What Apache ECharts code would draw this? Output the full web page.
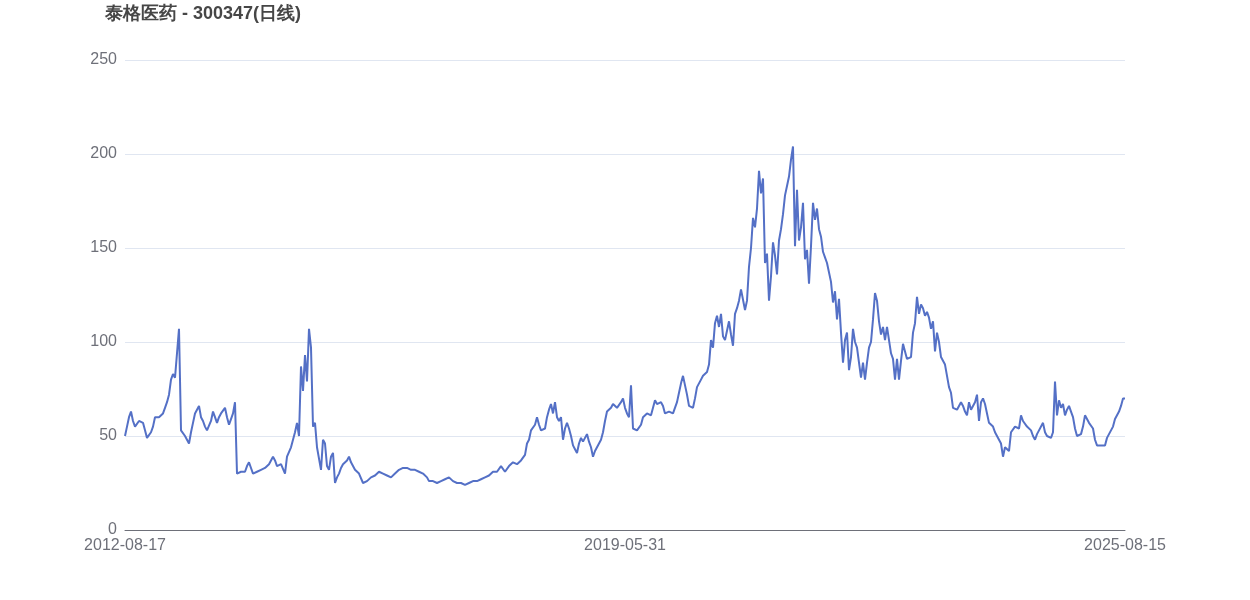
<!DOCTYPE html>
<html>
<head>
<meta charset="utf-8">
<script src="https://cdn.jsdelivr.net/npm/echarts@6/dist/echarts.min.js"></script>
<style>html,body{margin:0;padding:0;background:#fff;}#c{width:1250px;height:600px;}</style>
</head>
<body>
<div id="c"></div>
<script>
const titleText = '泰格医药 - 300347(日线)';
const tickLabels = ['2012-08-17', '2019-05-31', '2025-08-15'];
const yTicks = [0, 50, 100, 150, 200, 250];
// closing price, sampled evenly across the trading days
const closes = [
  50,55,60,63,58,55,56,58,59,57,
  53,49,50,52,55,60,61,60,59,62,
  65,68,72,80,83,81,82,107,53,52,
  50,48,46,52,57,62,64,66,60,58,
  55,53,52,58,63,60,57,60,62,61,
  65,60,56,59,62,68,30,29,31,32,
  31,34,36,33,30,30,31,31,32,32,
  33,34,35,37,39,37,34,34,35,34,
  30,39,40,44,48,52,57,50,87,74,
  93,79,107,97,55,57,44,38,32,48,
  46,34,32,39,41,25,28,30,33,35,
  36,37,39,36,34,32,31,30,29,25,
  26,26,27,28,29,29,30,31,30,30,
  30,29,28,28,29,30,31,32,33,33,
  34,33,32,32,32,32,31,31,31,30,
  30,28,26,26,26,25,25,26,26,27,
  27,28,28,27,26,25,25,25,25,24,
  24,25,25,25,26,26,26,27,27,27,
  28,28,29,30,31,32,31,32,34,33,
  31,32,34,35,36,35,35,36,37,36,
  40,46,48,53,52,56,60,56,53,54,
  54,60,64,67,62,68,60,58,60,48,
  54,57,54,50,45,43,41,46,49,47,
  49,51,47,44,39,42,44,45,48,52,
  58,63,64,65,67,66,65,64,68,70,
  65,62,60,77,54,53,53,54,56,60,
  61,62,62,61,65,69,67,67,68,66,
  62,63,63,62,62,63,68,73,78,82,
  81,72,66,65,65,70,76,77,80,82,
  83,84,88,101,97,110,114,108,115,103,
  101,106,111,104,98,115,118,122,128,129,
  117,122,140,150,166,161,171,191,179,187,
  142,147,122,135,153,146,136,154,160,168,
  178,183,188,197,204,151,181,154,161,174,
  144,149,131,151,174,165,171,160,156,148,
  145,142,143,132,121,127,112,123,105,89,
  101,105,85,92,107,100,97,89,81,89,
  80,89,97,100,112,126,122,111,104,108,
  101,108,101,94,91,80,91,80,90,99,
  95,91,90,92,105,110,124,115,120,118,
  114,116,113,107,111,95,105,100,92,90,
  88,87,76,73,65,65,64,63,68,66,
  63,61,68,64,65,68,72,58,68,70,
  67,62,57,56,55,52,50,49,46,39,
  44,45,42,52,51,55,56,54,61,58,
  57,55,55,53,50,48,51,53,52,57,
  52,50,49,49,52,79,61,69,65,67,
  61,64,66,63,60,54,50,49,51,55,
  61,59,57,57,54,48,45,44,45,44,
  45,49,51,50,55,59,58,63,66,70,
  70
];
const mid = (closes.length - 1) / 2;
const categories = closes.map((_, i) => i === 0 ? tickLabels[0] : (i === mid ? tickLabels[1] : (i === closes.length - 1 ? tickLabels[2] : String(i))));

const chart = echarts.init(document.getElementById('c'));
chart.setOption({
  animation: false,
  title: {
    text: titleText,
    left: 100, top: 0,
    textStyle: { fontSize: 18, fontWeight: 'bold', color: '#464646', fontFamily: 'Liberation Sans, Arial, sans-serif' }
  },
  grid: { left: 125, right: 125, top: 60, bottom: 70 },
  xAxis: {
    type: 'category',
    data: categories,
    boundaryGap: false,
    axisTick: { show: false },
    axisLine: { lineStyle: { color: '#6E7079' } },
    axisLabel: { interval: mid - 1, fontSize: 16, color: '#6E7079', margin: 8, showMinLabel: true, showMaxLabel: true },
    splitLine: { show: false }
  },
  yAxis: {
    type: 'value',
    min: yTicks[0], max: yTicks[yTicks.length - 1], interval: 50,
    axisLabel: { fontSize: 16, color: '#6E7079', margin: 8 },
    splitLine: { lineStyle: { color: '#E0E6F1' } }
  },
  series: [{
    type: 'line',
    data: closes,
    showSymbol: false,
    symbol: 'none',
    lineStyle: { color: '#5470c6', width: 2 },
    itemStyle: { color: '#5470c6' }
  }]
});
</script>
</body>
</html>
